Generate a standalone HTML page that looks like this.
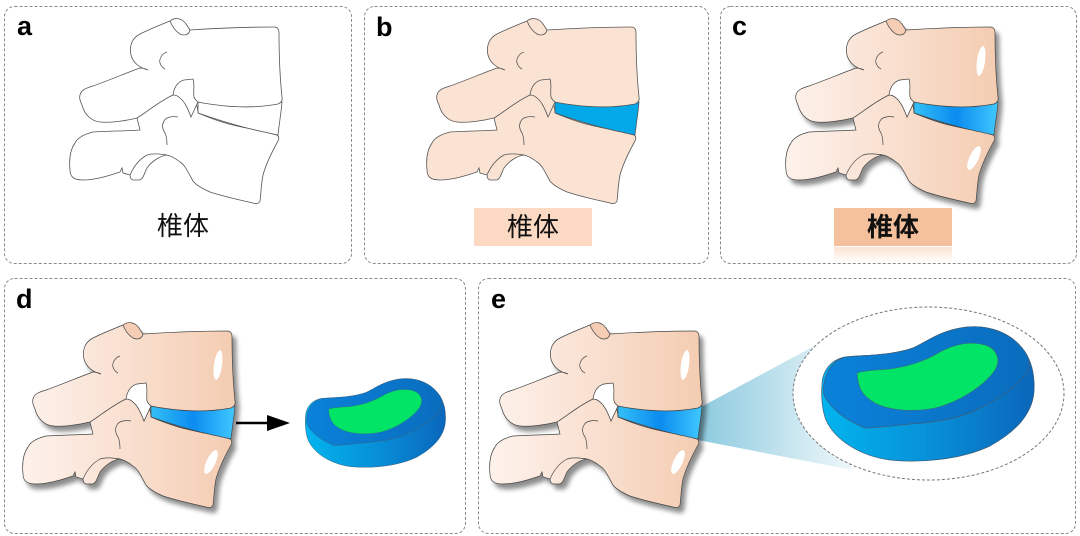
<!DOCTYPE html>
<html><head><meta charset="utf-8"><style>
html,body{margin:0;padding:0;background:#fff;}
svg{display:block;}
.lbl{font-family:"Liberation Sans",sans-serif;font-weight:bold;font-size:27px;fill:#000;}
.cjk{font-family:"Liberation Sans","Noto Sans CJK SC",sans-serif;font-size:26px;fill:#111;}
</style></head><body>
<svg width="1080" height="536" viewBox="0 0 1080 536" xmlns="http://www.w3.org/2000/svg">
<defs>
  <path id="U" d="M80,95 C81,90 86,88 93,86 C110,80 126,73 140,68 C143,68 146,69 148,70 C140,68 133,63 131,55 C129,46 132,38 140,34 C150,29 160,25 170,21 L186,25 L190,30 C220,28 250,27 274,27 Q279,27 279,33 C279,55 280,78 282,97 Q283,102 278,104 C262,107 240,108 217,105 C208,104 202,103 198,102 L191,117 C188,109 185,102 180,98 C178,96 176,95 173,95 C160,101 148,111 137,118 C125,121 110,123 100,122 C90,121 84,113 82,105 C80,101 79,98 80,95 Z"/>
  <path id="K" d="M170,21 C175,17 182,18 186,24 L190,30 C189,35 184,36 180,34 C175,31 172,26 170,21 Z"/>
  <path id="L" d="M173,95 C174,88 177,82 184,80 L193,79 C195,85 193,92 194,97 C195,102 198,106 198,113 C210,118 220,122 233,125 C250,129 265,132 277,135 Q280,137 278,141 C273,150 266,164 263,175 C261,185 261,194 260,201 Q258,205 253,203 C235,199 222,196 210,192 C201,188 196,185 193,181 C188,172 185,165 180,162 C175,158 171,156 167,155 C160,156 152,161 147,168 C144,174 143,180 139,180 L133,180 Q130,179 130,175 L123,173 L122,168 L120,172 C108,176 95,180 83,180 C74,180 70,177 70,170 C69,160 70,150 75,143 C78,137 85,134 93,132 C110,131 125,131 140,130 L137,118 C150,110 160,100 173,95 Z"/>
  <path id="D" d="M198,102 C210,104 235,108 262,106 L282,102 C281,114 279,125 278,135 C262,132 232,125 198,113 Z"/>
  <path id="SP" d="M173,95 C174,88 177,82 184,80 L193,79 C195,85 193,92 194,97 C195,100 197,101 198,102"/>
  <path id="WP" d="M173,95 C174,88 177,82 184,80 L193,79 C195,85 193,92 194,97 C195,100 197,101 198,102 L191,117 C188,109 185,102 180,98 C178,96 176,95 173,95 Z"/>
  <path id="IN" d="M167,52 C161,54 159,60 160,63 C161,66 163,68 165,69 M178,117 C172,116 166,117 164,121 C161,126 163,130 165,133 C167,137 167,141 167,145 M130,175 C133,168 138,160 147,155 C153,153 160,154 167,155"/>

  <linearGradient id="vg" gradientUnits="userSpaceOnUse" x1="75" y1="0" x2="282" y2="0">
    <stop offset="0" stop-color="#fdf1ea"/>
    <stop offset="0.5" stop-color="#f9dfcf"/>
    <stop offset="1" stop-color="#f4ccb1"/>
  </linearGradient>
  <linearGradient id="dg" gradientUnits="userSpaceOnUse" x1="198" y1="0" x2="282" y2="0">
    <stop offset="0" stop-color="#34bff6"/>
    <stop offset="0.5" stop-color="#0b8cf0"/>
    <stop offset="1" stop-color="#40c8ff"/>
  </linearGradient>
  <filter id="sh" x="-15%" y="-15%" width="135%" height="140%">
    <feGaussianBlur in="SourceAlpha" stdDeviation="2.5"/>
    <feOffset dx="4" dy="5" result="o"/>
    <feComponentTransfer><feFuncA type="linear" slope="0.45"/></feComponentTransfer>
    <feMerge><feMergeNode/><feMergeNode in="SourceGraphic"/></feMerge>
  </filter>

  <g id="VC">
    <g filter="url(#sh)">
      <use href="#D" fill="url(#dg)" stroke="#444" stroke-width="0.7"/>
      <use href="#L" fill="url(#vg)" stroke="#444" stroke-width="0.7"/>
      <use href="#U" fill="url(#vg)" stroke="#444" stroke-width="0.7"/>
    </g>
    <use href="#K" fill="#f4cdb4" stroke="#444" stroke-width="0.7"/>
    <use href="#WP" fill="#fff" stroke="#444" stroke-width="0.7"/>
    <use href="#IN" fill="none" stroke="#444" stroke-width="0.7"/>
    <ellipse cx="265" cy="61" rx="4" ry="15" transform="rotate(8 265 61)" fill="#fff"/>
    <ellipse cx="258" cy="158" rx="4.5" ry="13" transform="rotate(25 258 158)" fill="#fff"/>
  </g>

  <linearGradient id="topg" gradientUnits="userSpaceOnUse" x1="822" y1="0" x2="1035" y2="0">
    <stop offset="0" stop-color="#0a82da"/>
    <stop offset="1" stop-color="#0a6cbd"/>
  </linearGradient>
  <linearGradient id="sideg" gradientUnits="userSpaceOnUse" x1="822" y1="0" x2="1035" y2="0">
    <stop offset="0" stop-color="#02b4ee"/>
    <stop offset="0.5" stop-color="#0790d8"/>
    <stop offset="1" stop-color="#0b66ba"/>
  </linearGradient>
  <g id="BD">
    <path d="M845,357 C862,355 890,356 913,348 C925,343 940,330 967,327 C990,325 1010,333 1022,348 C1032,360 1035,375 1034,392 C1032,415 1015,432 990,446 C960,460 920,463 890,460 C860,456 835,440 826,420 C822,410 821,395 822,385 C822,372 830,360 845,357 Z" fill="url(#sideg)" stroke="#3e5e78" stroke-width="0.7"/>
    <path d="M845,357 C862,355 890,356 913,348 C925,343 940,330 967,327 C990,325 1010,333 1022,348 C1030,357 1030,364 1028,370 C1020,385 1000,398 980,408 C960,418 940,422 910,424 C890,426 875,428 865,428 C845,420 830,408 824,395 C822,385 826,363 845,357 Z" fill="url(#topg)" stroke="#3e5e78" stroke-width="0.7"/>
    <path d="M857,373 C858,385 860,395 875,403 C890,411 915,412 935,408 C960,402 985,385 995,370 C1002,358 995,348 985,345 C970,341 955,344 940,352 C925,361 910,366 890,369 C875,370 862,371 857,373 Z" fill="#02e466" stroke="#3e6e70" stroke-width="0.6"/>
  </g>

  <linearGradient id="beam" gradientUnits="userSpaceOnUse" x1="700" y1="0" x2="850" y2="0">
    <stop offset="0" stop-color="#8dcadf"/>
    <stop offset="1" stop-color="#eef7fa"/>
  </linearGradient>
  <linearGradient id="refl" x1="0" y1="0" x2="0" y2="1">
    <stop offset="0" stop-color="#f5c19d" stop-opacity="0.45"/>
    <stop offset="1" stop-color="#f5c19d" stop-opacity="0"/>
  </linearGradient>
</defs>

<!-- panel frames -->
<g fill="none" stroke="#8a8a8a" stroke-width="1" stroke-dasharray="3,2">
  <rect x="4.5" y="6.5" width="347" height="257" rx="10"/>
  <rect x="364.5" y="6.5" width="344" height="257" rx="10"/>
  <rect x="720.5" y="6.5" width="356" height="257" rx="10"/>
  <rect x="4.5" y="278.5" width="461" height="255" rx="10"/>
  <rect x="478.5" y="278.5" width="597" height="255" rx="10"/>
</g>

<!-- panel labels -->
<text class="lbl" x="17" y="35">a</text>
<text class="lbl" x="376" y="36">b</text>
<text class="lbl" x="732" y="35">c</text>
<text class="lbl" x="16" y="308">d</text>
<text class="lbl" x="491" y="308">e</text>

<!-- panel a -->
<g fill="#fff" stroke="#555" stroke-width="0.8">
  <use href="#D"/>
  <use href="#L"/>
  <use href="#U"/>
  <use href="#K"/>
  <use href="#SP" fill="none"/>
  <use href="#IN" fill="none"/>
</g>
<text class="cjk" x="183" y="235" text-anchor="middle">椎体</text>

<!-- panel b -->
<g transform="translate(357,0)" stroke="#555" stroke-width="0.8">
  <use href="#D" fill="#02a8e8"/>
  <use href="#L" fill="#fbe3d3"/>
  <use href="#U" fill="#fbe3d3"/>
  <use href="#K" fill="#fbe3d3"/>
  <use href="#SP" fill="none"/>
  <use href="#IN" fill="none"/>
</g>
<rect x="474" y="208" width="118" height="38" fill="#fbd9c3"/>
<text class="cjk" x="533" y="236" text-anchor="middle">椎体</text>

<!-- panel c -->
<use href="#VC" transform="translate(716,0)"/>
<rect x="834" y="208" width="118" height="38" fill="#f5c19d"/>
<rect x="834" y="247" width="118" height="16" fill="url(#refl)"/>
<text class="cjk" x="893" y="236" text-anchor="middle" fill="#000" style="font-weight:bold">椎体</text>

<!-- panel d -->
<use href="#VC" transform="translate(-47,304)"/>
<line x1="236" y1="423" x2="270" y2="423" stroke="#000" stroke-width="2.5"/>
<polygon points="267,415 290,423 267,431" fill="#000"/>
<use href="#BD" transform="translate(-237,163) scale(0.66)"/>

<!-- panel e -->
<polygon points="701,407 818,344 852,470 698,440" fill="url(#beam)"/>
<ellipse cx="928.5" cy="393.5" rx="135.5" ry="86.5" fill="#fff" stroke="#777" stroke-width="1" stroke-dasharray="3,2"/>
<use href="#VC" transform="translate(420,304)"/>
<use href="#BD"/>
</svg>
</body></html>
